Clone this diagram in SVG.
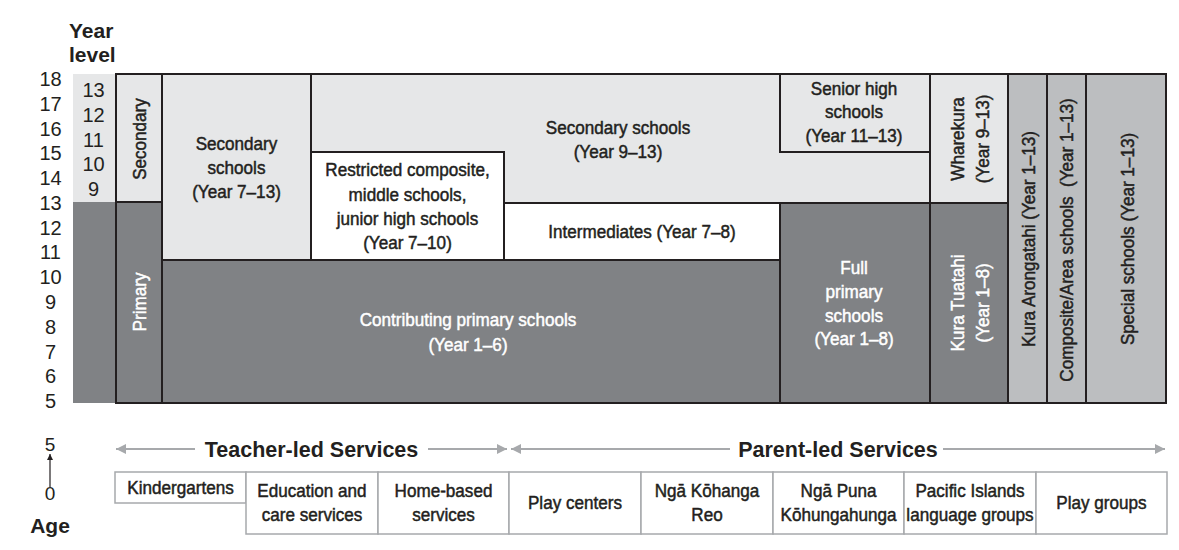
<svg xmlns="http://www.w3.org/2000/svg" width="1179" height="550" viewBox="0 0 1179 550">
<defs>
<style>
.lt{fill:#e6e7e8}.dk{fill:#808285}.md{fill:#bcbec0}.wh{fill:#ffffff}
.cell{stroke:#231f20;stroke-width:2}
.t{font-family:"Liberation Sans Narrow","Liberation Sans",Arial,sans-serif;font-size:19px;fill:#231f20;stroke:#231f20;stroke-width:0.5;text-anchor:middle;transform-box:fill-box;transform-origin:center;transform:scaleX(0.9)}
.tw{fill:#ffffff;stroke:#ffffff}
.num{font-family:"Liberation Sans",Arial,sans-serif;font-size:20px;fill:#231f20;text-anchor:middle}
.hd{font-family:"Liberation Sans",Arial,sans-serif;font-weight:bold;font-size:21px;fill:#231f20}
.box{fill:#ffffff;stroke:#a7a9ac;stroke-width:1.5}
.arr{stroke:#a7a9ac;stroke-width:2;fill:none}
</style>
<marker id="ga" viewBox="0 0 10 10" refX="10" refY="5" markerWidth="5" markerHeight="5" orient="auto" markerUnits="strokeWidth">
<path d="M0,0 L10,5 L0,10 Z" fill="#a7a9ac"/>
</marker>
<marker id="ka" viewBox="0 0 10 10" refX="10" refY="5" markerWidth="5" markerHeight="6" orient="auto" markerUnits="strokeWidth">
<path d="M0,0 L10,5 L0,10 Z" fill="#231f20"/>
</marker>
</defs>
<rect width="1179" height="550" fill="#ffffff"/>

<g id="axis-labels">
<text class="hd" x="69" y="38">Year</text>
<text class="hd" x="69" y="62">level</text>
<g class="num">
<text x="50.5" y="86">18</text>
<text x="50.5" y="110.8">17</text>
<text x="50.5" y="135.5">16</text>
<text x="50.5" y="160.3">15</text>
<text x="50.5" y="185.1">14</text>
<text x="50.5" y="209.9">13</text>
<text x="50.5" y="234.6">12</text>
<text x="50.5" y="259.4">11</text>
<text x="50.5" y="284.2">10</text>
<text x="50.5" y="308.9">9</text>
<text x="50.5" y="333.7">8</text>
<text x="50.5" y="358.5">7</text>
<text x="50.5" y="383.2">6</text>
<text x="50.5" y="408">5</text>
</g>
</g>

<g id="year-column">
<rect class="lt" x="73" y="74" width="43" height="128"/>
<rect class="dk" x="73" y="202" width="43" height="201"/>
<g class="num">
<text x="93.5" y="97">13</text>
<text x="93.5" y="121.7">12</text>
<text x="93.5" y="146.5">11</text>
<text x="93.5" y="171.2">10</text>
<text x="93.5" y="196">9</text>
</g>
</g>

<g id="secondary-band">
<rect class="lt cell" x="116" y="74" width="46" height="128"/>
<g transform="translate(139,139) rotate(-90)"><text class="t" y="6.5">Secondary</text></g>
</g>
<g id="primary-band">
<rect class="dk cell" x="116" y="202" width="46" height="201"/>
<g transform="translate(139,302) rotate(-90)"><text class="t tw" y="6.5">Primary</text></g>
</g>

<g id="secondary-7-13">
<rect class="lt cell" x="162" y="74" width="149" height="186"/>
<text class="t" x="236.5" y="150.5">Secondary</text>
<text class="t" x="236.5" y="174.5">schools</text>
<text class="t" x="236.5" y="198.5">(Year 7–13)</text>
</g>

<g id="secondary-9-13">
<path class="lt cell" d="M311,74 H780 V152 H930 V203 H504 V152 H311 Z"/>
<text class="t" x="618" y="134.5">Secondary schools</text>
<text class="t" x="618" y="158.5">(Year 9–13)</text>
</g>

<g id="restricted-composite">
<rect class="wh cell" x="311" y="152" width="193" height="108"/>
<text class="t" x="407.5" y="176.5">Restricted composite,</text>
<text class="t" x="407.5" y="201">middle schools,</text>
<text class="t" x="407.5" y="225.5">junior high schools</text>
<text class="t" x="407.5" y="249.5">(Year 7–10)</text>
</g>

<g id="intermediates">
<rect class="wh cell" x="504" y="203" width="276" height="57"/>
<text class="t" x="642" y="238.5">Intermediates (Year 7–8)</text>
</g>

<g id="senior-high">
<rect class="lt cell" x="780" y="74" width="150" height="78"/>
<text class="t" x="854" y="95.5">Senior high</text>
<text class="t" x="854" y="118.5">schools</text>
<text class="t" x="854" y="142.5">(Year 11–13)</text>
</g>

<g id="contributing-primary">
<rect class="dk cell" x="162" y="260" width="618" height="143"/>
<text class="t tw" x="468" y="326.5">Contributing primary schools</text>
<text class="t tw" x="468" y="351.5">(Year 1–6)</text>
</g>

<g id="full-primary">
<rect class="dk cell" x="780" y="203" width="150" height="200"/>
<text class="t tw" x="854" y="274.5">Full</text>
<text class="t tw" x="854" y="298.5">primary</text>
<text class="t tw" x="854" y="322.5">schools</text>
<text class="t tw" x="854" y="345.5">(Year 1–8)</text>
</g>

<g id="wharekura">
<rect class="lt cell" x="930" y="74" width="78" height="129"/>
<g transform="translate(957,139) rotate(-90)"><text class="t" y="6.5">Wharekura</text></g>
<g transform="translate(982,139) rotate(-90)"><text class="t" y="6.5">(Year 9–13)</text></g>
</g>

<g id="kura-tuatahi">
<rect class="dk cell" x="930" y="203" width="78" height="200"/>
<g transform="translate(957,303) rotate(-90)"><text class="t tw" y="6.5">Kura Tuatahi</text></g>
<g transform="translate(982,303) rotate(-90)"><text class="t tw" y="6.5">(Year 1–8)</text></g>
</g>

<g id="kura-arongatahi">
<rect class="md cell" x="1008" y="74" width="39" height="329"/>
<g transform="translate(1028,239) rotate(-90)"><text class="t" y="6.5">Kura Arongatahi (Year 1–13)</text></g>
</g>

<g id="composite-area">
<rect class="md cell" x="1047" y="74" width="39" height="329"/>
<g transform="translate(1066,240) rotate(-90)"><text class="t" y="6.5" xml:space="preserve">Composite/Area schools  (Year 1–13)</text></g>
</g>

<g id="special-schools">
<rect class="md cell" x="1086" y="74" width="80" height="329"/>
<g transform="translate(1127,239) rotate(-90)"><text class="t" y="6.5">Special schools (Year 1–13)</text></g>
</g>

<g id="age-axis">
<text class="num" x="50" y="451" style="font-size:19px">5</text>
<text class="num" x="50" y="500" style="font-size:19px">0</text>
<text class="hd" x="50" y="533" text-anchor="middle">Age</text>
</g>

<g id="connectors">
<line x1="50" y1="487" x2="50" y2="454" stroke="#231f20" stroke-width="1.2" marker-end="url(#ka)"/>
<line class="arr" x1="195" y1="449" x2="116" y2="449" marker-end="url(#ga)"/>
<line class="arr" x1="428" y1="449" x2="507" y2="449" marker-end="url(#ga)"/>
<line class="arr" x1="730" y1="449" x2="511" y2="449" marker-end="url(#ga)"/>
<line class="arr" x1="943" y1="449" x2="1165" y2="449" marker-end="url(#ga)"/>
</g>

<g id="service-headers">
<text class="hd" x="311.5" y="456.5" text-anchor="middle" style="font-size:21.5px">Teacher-led Services</text>
<text class="hd" x="838" y="456.5" text-anchor="middle" style="font-size:21.5px">Parent-led Services</text>
</g>

<g id="kindergartens">
<rect class="box" x="115" y="472" width="131" height="31"/>
<text class="t" x="180.5" y="494.5">Kindergartens</text>
</g>
<g id="education-care">
<rect class="box" x="246" y="472" width="132" height="62"/>
<text class="t" x="312" y="497.5">Education and</text>
<text class="t" x="312" y="521.5">care services</text>
</g>
<g id="home-based">
<rect class="box" x="378" y="472" width="131" height="62"/>
<text class="t" x="443.5" y="497.5">Home-based</text>
<text class="t" x="443.5" y="521.5">services</text>
</g>
<g id="play-centers">
<rect class="box" x="509" y="472" width="132" height="62"/>
<text class="t" x="575" y="509.5">Play centers</text>
</g>
<g id="nga-kohanga-reo">
<rect class="box" x="641" y="472" width="132" height="62"/>
<text class="t" x="707" y="497.5">Ngā Kōhanga</text>
<text class="t" x="707" y="521.5">Reo</text>
</g>
<g id="nga-puna">
<rect class="box" x="773" y="472" width="131" height="62"/>
<text class="t" x="838.5" y="497.5">Ngā Puna</text>
<text class="t" x="838.5" y="521.5">Kōhungahunga</text>
</g>
<g id="pacific-islands">
<rect class="box" x="904" y="472" width="132" height="62"/>
<text class="t" x="970" y="497.5">Pacific Islands</text>
<text class="t" x="970" y="521.5">language groups</text>
</g>
<g id="play-groups">
<rect class="box" x="1036" y="472" width="131" height="62"/>
<text class="t" x="1101.5" y="509.5">Play groups</text>
</g>
</svg>
